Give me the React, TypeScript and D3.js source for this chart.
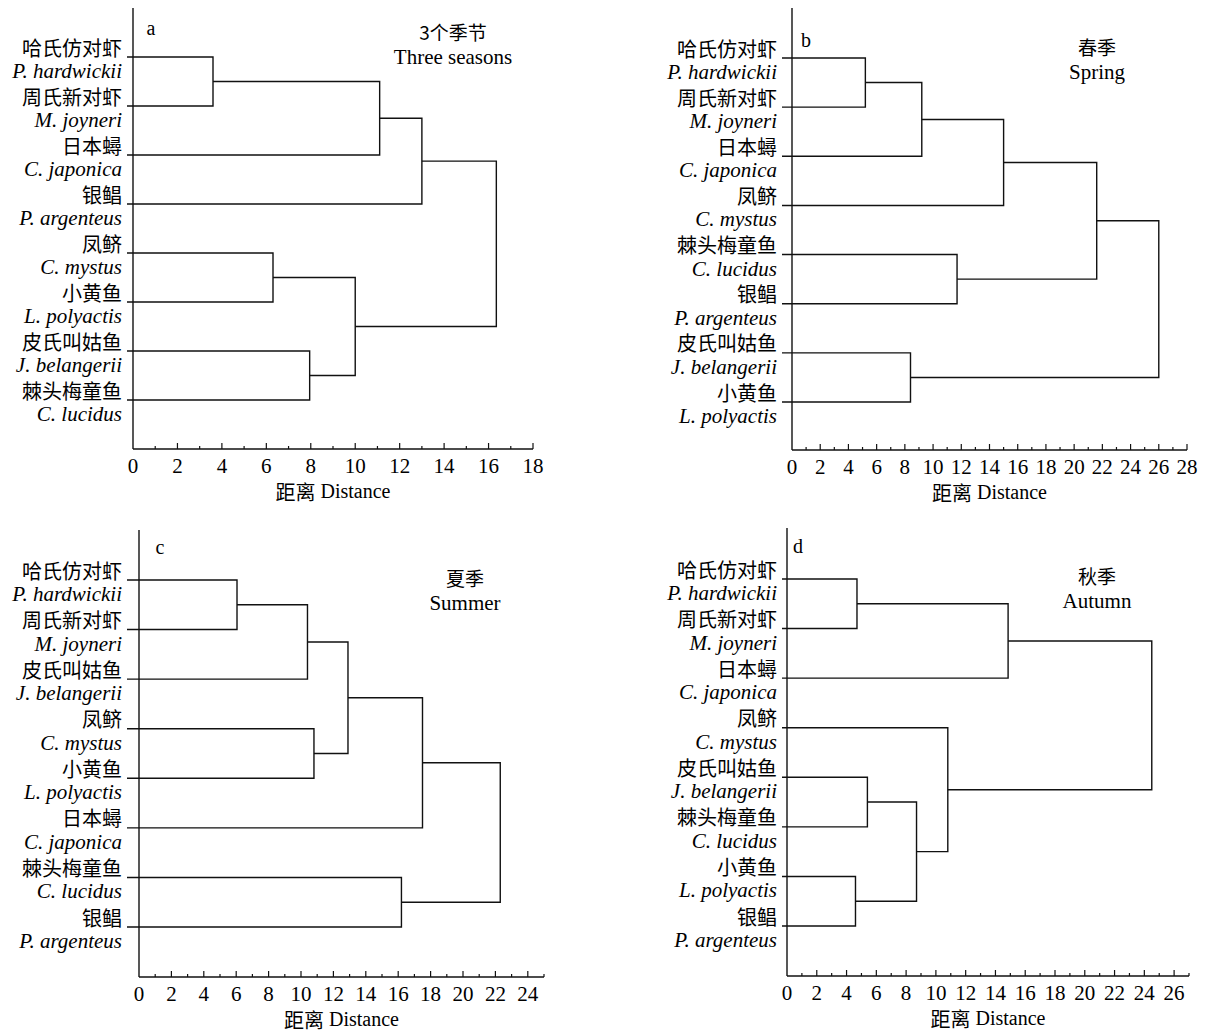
import * as React from 'react';
import * as d3 from 'd3';

// Latin names shown under each Chinese name
const LATIN: Record<string, string> = {
  '哈氏仿对虾': 'P. hardwickii',
  '周氏新对虾': 'M. joyneri',
  '日本蟳': 'C. japonica',
  '银鲳': 'P. argenteus',
  '凤鲚': 'C. mystus',
  '小黄鱼': 'L. polyactis',
  '皮氏叫姑鱼': 'J. belangerii',
  '棘头梅童鱼': 'C. lucidus',
};

// leaf order top → bottom; merges are [a, b, distance], ids >= 8 point at earlier merges
const leavesA = ['哈氏仿对虾', '周氏新对虾', '日本蟳', '银鲳', '凤鲚', '小黄鱼', '皮氏叫姑鱼', '棘头梅童鱼'];
const mergesA: [number, number, number][] = [
  [0, 1, 3.6], [8, 2, 11.1], [9, 3, 13.0], [4, 5, 6.3], [6, 7, 7.95], [11, 12, 10.0], [10, 13, 16.35],
];

const leavesB = ['哈氏仿对虾', '周氏新对虾', '日本蟳', '凤鲚', '棘头梅童鱼', '银鲳', '皮氏叫姑鱼', '小黄鱼'];
const mergesB: [number, number, number][] = [
  [0, 1, 5.2], [8, 2, 9.2], [9, 3, 15.0], [4, 5, 11.7], [10, 11, 21.6], [6, 7, 8.4], [12, 13, 26.0],
];

const leavesC = ['哈氏仿对虾', '周氏新对虾', '皮氏叫姑鱼', '凤鲚', '小黄鱼', '日本蟳', '棘头梅童鱼', '银鲳'];
const mergesC: [number, number, number][] = [
  [0, 1, 6.05], [8, 2, 10.4], [3, 4, 10.8], [9, 10, 12.9], [11, 5, 17.5], [6, 7, 16.2], [12, 13, 22.3],
];

const leavesD = ['哈氏仿对虾', '周氏新对虾', '日本蟳', '凤鲚', '皮氏叫姑鱼', '棘头梅童鱼', '小黄鱼', '银鲳'];
const mergesD: [number, number, number][] = [
  [0, 1, 4.7], [8, 2, 14.85], [4, 5, 5.4], [6, 7, 4.6], [10, 11, 8.7], [3, 12, 10.8], [9, 13, 24.5],
];

const titlesA = ['3个季节', 'Three seasons'];
const titlesB = ['春季', 'Spring'];
const titlesC = ['夏季', 'Summer'];
const titlesD = ['秋季', 'Autumn'];

const axisMax = { a: 18, b: 28, c: 25, d: 27 };

const SERIF = '"Liberation Serif", "DejaVu Serif", serif';
const CJK = '"Noto Sans CJK SC", sans-serif';

interface PanelProps {
  letter: string;
  leaves: string[];
  merges: [number, number, number][];
  titles: string[];
  maxVal: number;
  x0: number;
  x1: number;
  yTop: number;
  yBottom: number;
  leafRange: [number, number];
  labelX: number;
  titleX: number;
  titleY: number;
  letterPos: [number, number];
}

function Dendrogram(p: PanelProps) {
  const x = d3.scaleLinear().domain([0, p.maxVal]).range([p.x0, p.x1]);
  const y = d3
    .scalePoint<number>()
    .domain(d3.range(p.leaves.length))
    .range(p.leafRange);
  const leafStart = p.labelX + 5;

  // node positions: leaves first, then each merge
  const nodes: { y: number; x: number }[] = p.leaves.map((_, i) => ({
    y: y(i) as number,
    x: leafStart,
  }));
  const paths: string[] = [];
  p.merges.forEach(([a, b, d]) => {
    const na = nodes[a];
    const nb = nodes[b];
    paths.push(`M${na.x},${na.y}H${x(d)}V${nb.y}H${nb.x}`);
    nodes.push({ x: x(d), y: (na.y + nb.y) / 2 });
  });

  const majors = d3.range(0, p.maxVal + 0.001, 2);
  const minors = d3.range(1, p.maxVal + 0.001, 2);
  const stroke = '#111';

  return (
    <g>
      {/* axes */}
      <line x1={p.x0} x2={p.x0} y1={p.yTop} y2={p.yBottom} stroke={stroke} strokeWidth={1.4} />
      <line x1={p.x0} x2={p.x1} y1={p.yBottom} y2={p.yBottom} stroke={stroke} strokeWidth={1.4} />
      {majors.map((v) => (
        <g key={'M' + v}>
          {v > 0 && (
            <line x1={x(v)} x2={x(v)} y1={p.yBottom} y2={p.yBottom - 6} stroke={stroke} strokeWidth={1.2} />
          )}
          <text
            x={x(v)}
            y={p.yBottom + 17}
            textAnchor="middle"
            dominantBaseline="central"
            fontFamily={SERIF}
            fontSize={21}
          >
            {v}
          </text>
        </g>
      ))}
      {minors.map((v) => (
        <line key={'m' + v} x1={x(v)} x2={x(v)} y1={p.yBottom} y2={p.yBottom - 3} stroke={stroke} strokeWidth={1.2} />
      ))}
      <text
        x={(p.x0 + x(p.maxVal)) / 2}
        y={p.yBottom + 42}
        textAnchor="middle"
        dominantBaseline="central"
        fontSize={20}
      >
        <tspan fontFamily={CJK}>距离</tspan>
        <tspan fontFamily={SERIF}> Distance</tspan>
      </text>

      {/* tree */}
      {paths.map((d, i) => (
        <path key={i} d={d} fill="none" stroke={stroke} strokeWidth={1.4} />
      ))}

      {/* leaf labels */}
      {p.leaves.map((name, i) => (
        <g key={name}>
          <text
            x={p.labelX}
            y={(y(i) as number) - 10}
            textAnchor="end"
            dominantBaseline="central"
            fontFamily={CJK}
            fontSize={20}
          >
            {name}
          </text>
          <text
            x={p.labelX}
            y={(y(i) as number) + 14}
            textAnchor="end"
            dominantBaseline="central"
            fontFamily={SERIF}
            fontStyle="italic"
            fontSize={21}
          >
            {LATIN[name]}
          </text>
        </g>
      ))}

      {/* panel letter and title */}
      <text x={p.letterPos[0]} y={p.letterPos[1]} textAnchor="middle" dominantBaseline="central" fontFamily={SERIF} fontSize={20}>
        {p.letter}
      </text>
      <text x={p.titleX} y={p.titleY} textAnchor="middle" dominantBaseline="central" fontFamily={CJK} fontSize={19}>
        {p.titles[0]}
      </text>
      <text x={p.titleX} y={p.titleY + 26} textAnchor="middle" dominantBaseline="central" fontFamily={SERIF} fontSize={21}>
        {p.titles[1]}
      </text>
    </g>
  );
}

export default function App() {
  return (
    <svg
      width={1212}
      height={1033}
      viewBox="0 0 1212 1033"
      style={{ position: 'absolute', left: 0, top: 0, background: '#fff' }}
    >
      <rect width={1212} height={1033} fill="#fff" />
      <Dendrogram
        letter="a"
        leaves={leavesA}
        merges={mergesA}
        titles={titlesA}
        maxVal={axisMax.a}
        x0={133}
        x1={533}
        yTop={8}
        yBottom={449}
        leafRange={[57, 400]}
        labelX={122}
        titleX={453}
        titleY={31}
        letterPos={[151, 28]}
      />
      <Dendrogram
        letter="b"
        leaves={leavesB}
        merges={mergesB}
        titles={titlesB}
        maxVal={axisMax.b}
        x0={792}
        x1={1187}
        yTop={8}
        yBottom={450}
        leafRange={[58, 402]}
        labelX={777}
        titleX={1097}
        titleY={46}
        letterPos={[806, 40]}
      />
      <Dendrogram
        letter="c"
        leaves={leavesC}
        merges={mergesC}
        titles={titlesC}
        maxVal={axisMax.c}
        x0={139}
        x1={544}
        yTop={530}
        yBottom={977}
        leafRange={[580, 927]}
        labelX={122}
        titleX={465}
        titleY={577}
        letterPos={[160, 547]}
      />
      <Dendrogram
        letter="d"
        leaves={leavesD}
        merges={mergesD}
        titles={titlesD}
        maxVal={axisMax.d}
        x0={787}
        x1={1189}
        yTop={528}
        yBottom={976}
        leafRange={[579, 926]}
        labelX={777}
        titleX={1097}
        titleY={575}
        letterPos={[798, 546]}
      />
    </svg>
  );
}
